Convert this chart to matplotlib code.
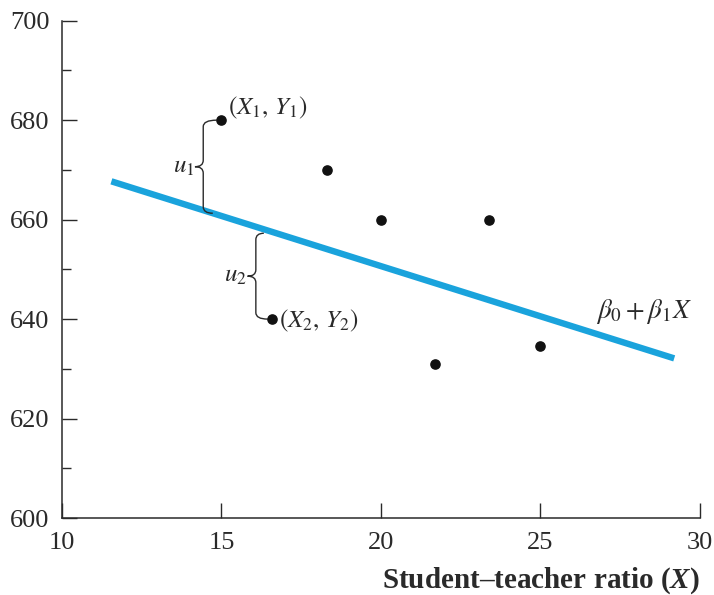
import numpy as np
import matplotlib
matplotlib.use("Agg")
import matplotlib.pyplot as plt
from matplotlib.path import Path
from matplotlib.patches import PathPatch

# points
obs_x = [15.0, 18.3, 20.0, 23.4, 16.6, 21.7, 25.0]
obs_y = [680.0, 670.0, 660.0, 660.0, 640.0, 631.0, 634.5]

# regression line end points
line_x = [11.55, 29.2]
line_y = [667.7, 632.1]

plt.rcParams['font.family'] = 'Liberation Serif'
plt.rcParams['mathtext.fontset'] = 'custom'
plt.rcParams['mathtext.rm'] = 'Liberation Serif:bold'
plt.rcParams['mathtext.it'] = 'Liberation Serif:bold:italic'

ink = '#2a2a2a'
fig = plt.figure(figsize=(7.14, 5.95), dpi=100)
ax = fig.add_axes([0.0868, 0.1294, 0.8932, 0.8358])

ax.plot(line_x, line_y, color='#1aa3dc', lw=4.6, solid_capstyle='butt', zorder=2)
ax.scatter(obs_x, obs_y, s=44, color='#111111', zorder=3)


def brace(x_end_top, y_top, x_end_bot, y_bot, xb):
    hh, ch, cw = 1.3, 1.3, 0.26
    ym = (y_top + y_bot) / 2
    verts = [(x_end_top, y_top), (xb, y_top), (xb, y_top - hh),
             (xb, ym + ch), (xb, ym), (xb - cw, ym),
             (xb, ym), (xb, ym - ch),
             (xb, y_bot + hh), (xb, y_bot), (x_end_bot, y_bot)]
    codes = [Path.MOVETO, Path.CURVE3, Path.CURVE3,
             Path.LINETO, Path.CURVE3, Path.CURVE3,
             Path.CURVE3, Path.CURVE3,
             Path.LINETO, Path.CURVE3, Path.CURVE3]
    ax.add_patch(PathPatch(Path(verts, codes), fill=False, lw=1.0,
                           edgecolor=ink, zorder=2))
    return xb - cw, ym


# u1: from point 1 down to the line
x1, y1 = obs_x[0], obs_y[0]
xb1 = x1 - 0.57
l1 = np.interp(xb1 + 0.3, line_x, line_y)
cx, cy = brace(x1 - 0.15, y1, xb1 + 0.3, l1, xb1)
ax.text(cx - 0.03, cy, r'$u_1$', ha='right', va='center', fontsize=18,
        math_fontfamily='stix', color=ink)

# u2: from the line down to point 5
x2, y2 = obs_x[4], obs_y[4]
xb2 = x2 - 0.52
l2 = np.interp(xb2 + 0.25, line_x, line_y)
cx, cy = brace(xb2 + 0.25, l2 - 0.8, x2 - 0.15, y2, xb2)
ax.text(cx - 0.03, cy, r'$u_2$', ha='right', va='center', fontsize=18,
        math_fontfamily='stix', color=ink)

ax.annotate(r'$(X_1,\,Y_1)$', (x1, y1), xytext=(5, 9), textcoords='offset points',
            ha='left', va='center', fontsize=18, math_fontfamily='stix', color=ink)
ax.annotate(r'$(X_2,\,Y_2)$', (x2, y2), xytext=(5, -1), textcoords='offset points',
            ha='left', va='center', fontsize=18, math_fontfamily='stix', color=ink)
ax.text(26.75, 641.5, r'$\beta_0+\beta_1 X$', ha='left', va='center', fontsize=19.5,
        math_fontfamily='stix', color=ink)

ax.set_xlim(10, 30)
ax.set_ylim(600, 700)
ax.set_xticks([10, 15, 20, 25, 30])
ax.set_yticks(np.arange(600, 701, 20))
ax.set_yticks(np.arange(610, 700, 20), minor=True)
ax.tick_params(axis='both', which='major', direction='in', length=11, width=1.0,
               color=ink, labelcolor=ink, labelsize=19)
ax.tick_params(axis='y', which='major', pad=9)
ax.tick_params(axis='x', which='major', pad=10)
ax.tick_params(axis='y', which='minor', direction='in', length=6.5, width=1.0, color=ink)

for s in ['top', 'right']:
    ax.spines[s].set_visible(False)
for s in ['left', 'bottom']:
    ax.spines[s].set_color(ink)
    ax.spines[s].set_linewidth(1.1)

ax.set_xlabel('Student–teacher ratio ($X$)', fontsize=21, fontweight='bold',
              color=ink, loc='right', labelpad=8)

fig.savefig('out.png', dpi=100)
